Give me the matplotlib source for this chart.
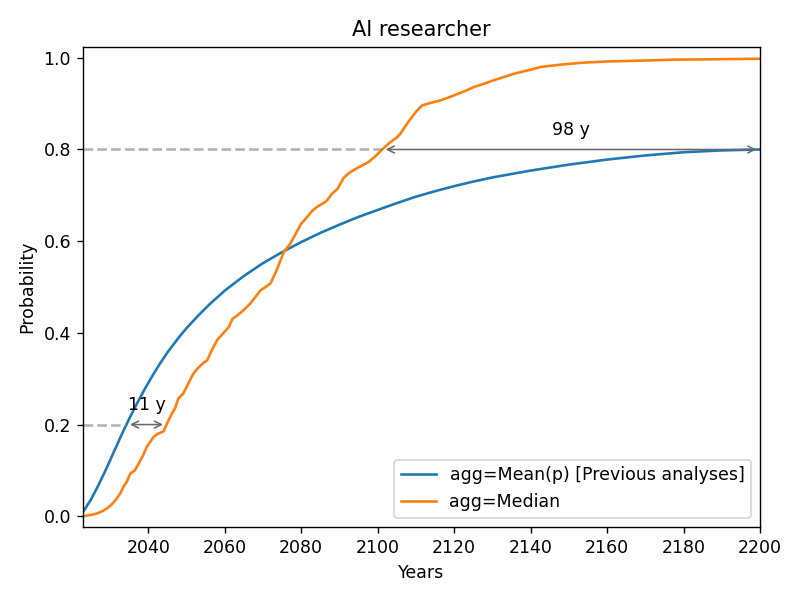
import numpy as np
import matplotlib
matplotlib.use("Agg")
import matplotlib.pyplot as plt

# Mean(p) aggregate
mean_years = [2023, 2025, 2027, 2029, 2031, 2033, 2035, 2037, 2039, 2041,
              2043, 2045, 2048, 2050, 2053, 2056, 2060, 2065, 2070, 2075,
              2080, 2085, 2090, 2095, 2100, 2105, 2110, 2115, 2120, 2125,
              2130, 2140, 2150, 2160, 2170, 2180, 2190, 2200]
mean_p = [0.010, 0.036, 0.068, 0.103, 0.140, 0.177, 0.212, 0.245, 0.276, 0.305,
          0.332, 0.357, 0.390, 0.410, 0.437, 0.462, 0.492, 0.524, 0.552, 0.576,
          0.598, 0.618, 0.636, 0.653, 0.668, 0.683, 0.697, 0.709, 0.720, 0.730,
          0.739, 0.754, 0.767, 0.778, 0.787, 0.794, 0.798, 0.800]

# Median aggregate (jagged)
median_years = [2023, 2025, 2026.6, 2028, 2029.2, 2030.5, 2031.8, 2032.7, 2033.5, 2034.4,
                2035.3, 2036.5, 2037.5, 2038.5, 2039.6, 2040.5, 2041.4, 2042.5, 2044, 2044.9,
                2046.2, 2047, 2047.9, 2049.2, 2050.5, 2051.8, 2053, 2054.5, 2055.4, 2056.5,
                2058, 2059.5, 2061.1, 2062, 2063.3, 2065, 2066.7, 2068, 2069.4, 2071,
                2072, 2073.5, 2074.6, 2075.5, 2077.2, 2078.5, 2080, 2081.6, 2083, 2084.2,
                2086, 2086.8, 2088, 2089.5, 2090.3, 2091.1, 2092.9, 2095, 2097.7, 2099.5,
                2101.2, 2103, 2105, 2106, 2108, 2110, 2111.6, 2114, 2116.4, 2120,
                2123, 2125.1, 2128, 2130, 2133, 2136, 2140, 2142.6, 2147.8, 2153,
                2160, 2170, 2177.4, 2190, 2200]
median_p = [0.000, 0.003, 0.006, 0.011, 0.017, 0.026, 0.039, 0.050, 0.064, 0.075,
            0.093, 0.100, 0.115, 0.130, 0.151, 0.162, 0.173, 0.180, 0.185, 0.202,
            0.224, 0.235, 0.257, 0.268, 0.290, 0.311, 0.323, 0.335, 0.340, 0.360,
            0.384, 0.398, 0.413, 0.430, 0.438, 0.450, 0.464, 0.478, 0.493, 0.502,
            0.508, 0.535, 0.558, 0.577, 0.595, 0.615, 0.638, 0.653, 0.667, 0.675,
            0.684, 0.689, 0.703, 0.714, 0.726, 0.738, 0.751, 0.761, 0.773, 0.786,
            0.800, 0.814, 0.826, 0.835, 0.860, 0.882, 0.896, 0.902, 0.907, 0.918,
            0.928, 0.936, 0.944, 0.950, 0.958, 0.966, 0.974, 0.980, 0.985, 0.989,
            0.992, 0.994, 0.996, 0.997, 0.998]

gap_levels = [0.2, 0.8]
gap_labels = ["11 y", "98 y"]

fig, ax = plt.subplots(figsize=(6.4, 4.8), dpi=125)
fig.subplots_adjust(left=0.104, right=0.95, top=0.922, bottom=0.122)

ax.plot(mean_years, mean_p, label="agg=Mean(p) [Previous analyses]")
ax.plot(median_years, median_p, label="agg=Median")

x0 = mean_years[0]
for level, lab in zip(gap_levels, gap_labels):
    t_mean = np.interp(level, mean_p, mean_years)
    t_med = np.interp(level, median_p, median_years)
    first, last = min(t_mean, t_med), max(t_mean, t_med)
    ax.plot([x0, first], [level, level], ls="--", color="gray", alpha=0.6)
    ax.annotate("", xy=(first, level), xytext=(last, level),
                arrowprops=dict(arrowstyle="<->", color="dimgray", lw=0.9))
    ax.text((first + last) / 2, level + 0.022, lab, ha="center", va="bottom")

ax.set_xlim(2023, 2200)
ax.set_ylim(-0.023, 1.024)
ax.set_title("AI researcher")
ax.set_xlabel("Years")
ax.set_ylabel("Probability")
ax.legend(loc="lower right")

fig.savefig("out.png")
